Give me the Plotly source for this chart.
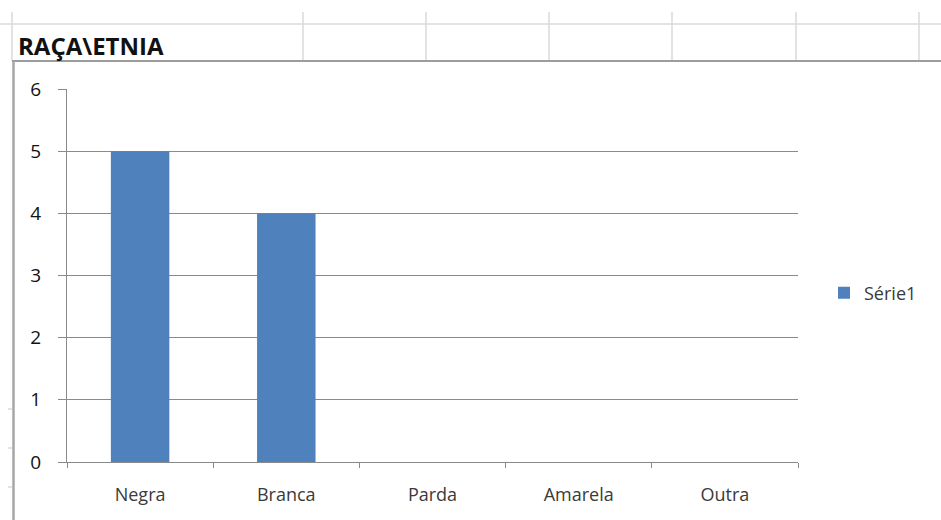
import plotly.graph_objects as go

# Data
categories = ["Negra", "Branca", "Parda", "Amarela", "Outra"]
values = [5, 4, 0, 0, 0]
series_name = "Série1"
chart_title = "RAÇA\\ETNIA"
y_ticks = [0, 1, 2, 3, 4, 5, 6]

W, H = 941, 520
M_L, M_R, M_T, M_B = 67, 143, 89, 58
PW, PH = W - M_L - M_R, H - M_T - M_B

def px(x):
    return (x - M_L) / PW

def py(y):
    return (H - M_B - y) / PH

BAR = "#4F81BD"
GRID = "#8A8A8A"
TXT = "#3a3a3a"
FONT = "Open Sans, DejaVu Sans, sans-serif"

fig = go.Figure()
fig.add_trace(go.Bar(
    x=categories, y=values, name=series_name,
    marker=dict(color=BAR, line=dict(width=0)),
    showlegend=True,
))

shapes = []
sheet = "#DADADA"
# worksheet cell grid behind the chart object
shapes.append(dict(type="line", xref="paper", yref="paper",
                   x0=px(0), x1=px(W), y0=py(24), y1=py(24),
                   line=dict(color=sheet, width=1.5), layer="below"))
for cx in [12, 303, 426, 549, 672, 796, 919]:
    shapes.append(dict(type="line", xref="paper", yref="paper",
                       x0=px(cx), x1=px(cx), y0=py(12), y1=py(61),
                       line=dict(color=sheet, width=1.5), layer="below"))
for ry in [409, 448, 487]:
    shapes.append(dict(type="line", xref="paper", yref="paper",
                       x0=px(8), x1=px(12), y0=py(ry), y1=py(ry),
                       line=dict(color=sheet, width=1.5), layer="below"))
# chart object border
shapes.append(dict(type="line", xref="paper", yref="paper",
                   x0=px(12), x1=px(W + 5), y0=py(61), y1=py(61),
                   line=dict(color="#9C9C9C", width=2), layer="below"))
shapes.append(dict(type="line", xref="paper", yref="paper",
                   x0=px(13.5), x1=px(13.5), y0=py(61), y1=py(H + 5),
                   line=dict(color="#A6A6A6", width=2.5), layer="below"))

fig.update_layout(
    width=W, height=H,
    margin=dict(l=M_L, r=M_R, t=M_T, b=M_B, pad=0),
    paper_bgcolor="white", plot_bgcolor="white",
    font=dict(family=FONT, color=TXT, size=18),
    bargap=0.6,
    shapes=shapes,
    annotations=[dict(
        text="<b>" + chart_title + "</b>", xref="paper", yref="paper",
        x=px(16), y=py(46), xanchor="left", yanchor="middle",
        showarrow=False, font=dict(family=FONT, size=24, color="#111111"),
    )],
    legend=dict(
        x=px(824), y=py(293), xanchor="left", yanchor="middle",
        font=dict(family=FONT, size=18, color=TXT),
        bgcolor="rgba(0,0,0,0)", itemwidth=30,
    ),
    xaxis=dict(
        showline=True, linecolor=GRID, linewidth=1,
        ticks="outside", tickson="boundaries", ticklen=5, tickcolor=GRID,
        showgrid=False, tickfont=dict(size=18, color=TXT),
        ticklabelstandoff=16,
    ),
    yaxis=dict(
        range=[0, 6], tickvals=y_ticks,
        showline=True, linecolor=GRID, linewidth=1,
        ticks="outside", ticklen=8, tickcolor=GRID,
        showgrid=True, gridcolor=GRID, gridwidth=1,
        zeroline=False, tickfont=dict(size=19, color="#111111"),
        ticklabelstandoff=13,
    ),
)

fig.write_html("out.html")
